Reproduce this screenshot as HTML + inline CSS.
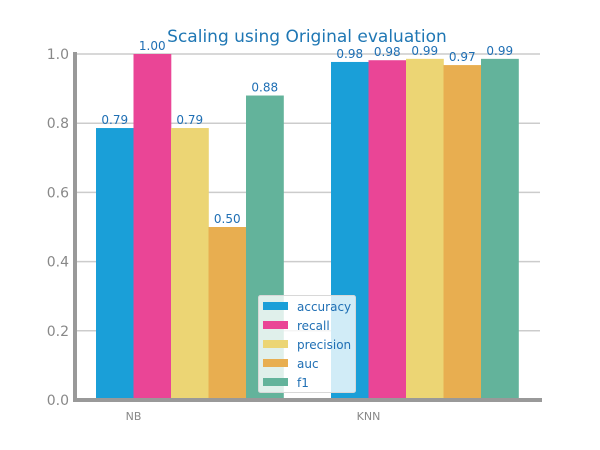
<!DOCTYPE html>
<html><head><meta charset="utf-8"><style>
body{margin:0;background:#fff;}
svg{display:block;font-family:"DejaVu Sans","Liberation Sans",sans-serif;}
</style></head><body>
<svg id="chart" width="600" height="450"></svg>
<script>
const categories = ["NB", "KNN"];
const metrics = ["accuracy", "recall", "precision", "auc", "f1"];
const accuracyVals = [0.786, 0.977];
const recallVals = [1.0, 0.982];
const precisionVals = [0.786, 0.986];
const aucVals = [0.50, 0.968];
const f1Vals = [0.88, 0.986];
const yTicks = [0.0, 0.2, 0.4, 0.6, 0.8, 1.0];
const series = [accuracyVals, recallVals, precisionVals, aucVals, f1Vals];
const colors = ["#1a9fd8", "#ea4596", "#ecd574", "#e8ae50", "#63b39b"];

const NS = "http://www.w3.org/2000/svg";
const svg = document.getElementById("chart");
function mk(tag, attrs, parent) {
  const e = document.createElementNS(NS, tag);
  for (const k in attrs) e.setAttribute(k, attrs[k]);
  (parent || svg).appendChild(e);
  return e;
}
const X0 = 75, X1 = 540, Y0 = 400, Y1 = 54;
const y = v => Y0 - v * (Y0 - Y1);
const barW = 37.5;
const groupStart = [96, 331];
const x = (ci, si) => groupStart[ci] + si * barW;

let t = mk("text", {x: 307, y: 42, "text-anchor": "middle", "font-size": 17, fill: "#1f77b4"});


t.textContent = "Scaling using Original evaluation";

yTicks.forEach(v => {
  if (v > 0) {
    const g = mk("line", {x1: X0, x2: X1, y1: y(v), y2: y(v), stroke: "#cccccc", "stroke-width": 1.5});
    
    
  }
  const l = mk("text", {x: 69, y: y(v) + 5, "text-anchor": "end", "font-size": 14, fill: "#888"});
  
  
  l.textContent = v.toFixed(1);
});

series.forEach((vals, si) => {
  vals.forEach((v, ci) => {
    const r = mk("rect", {x: x(ci, si), y: y(v), width: barW + 0.3, height: Y0 - y(v), fill: colors[si]});
    
    
    const lb = mk("text", {x: x(ci, si) + barW / 2, y: y(v) - 4, "text-anchor": "middle", "font-size": 12, fill: "#1f6fb4"});
    
    
    lb.textContent = v.toFixed(2);
  });
});

categories.forEach((c, ci) => {
  const lb = mk("text", {x: groupStart[ci] + barW, y: 420, "text-anchor": "middle", "font-size": 11, fill: "#888"});
  
  
  lb.textContent = c;
});

let ax = mk("line", {x1: 75, x2: 75, y1: 52, y2: 402, stroke: "#999", "stroke-width": 4});


let bx = mk("line", {x1: 73, x2: 542, y1: 400, y2: 400, stroke: "#999", "stroke-width": 4});



const lg = mk("g", {});


mk("rect", {x: 258.5, y: 295.5, width: 97, height: 97, rx: 2, fill: "rgba(255,255,255,0.8)", stroke: "#d8d8d8"}, lg);
metrics.forEach((m, i) => {
  const e = mk("g", {}, lg);
  
  
  mk("rect", {x: 263, y: 302 + i * 19, width: 25, height: 8, fill: colors[i]}, e);
  const tx = mk("text", {x: 297, y: 311 + i * 19, "font-size": 12, fill: "#1f6fb4"}, e);
  tx.textContent = m;
});
</script>
</body></html>
